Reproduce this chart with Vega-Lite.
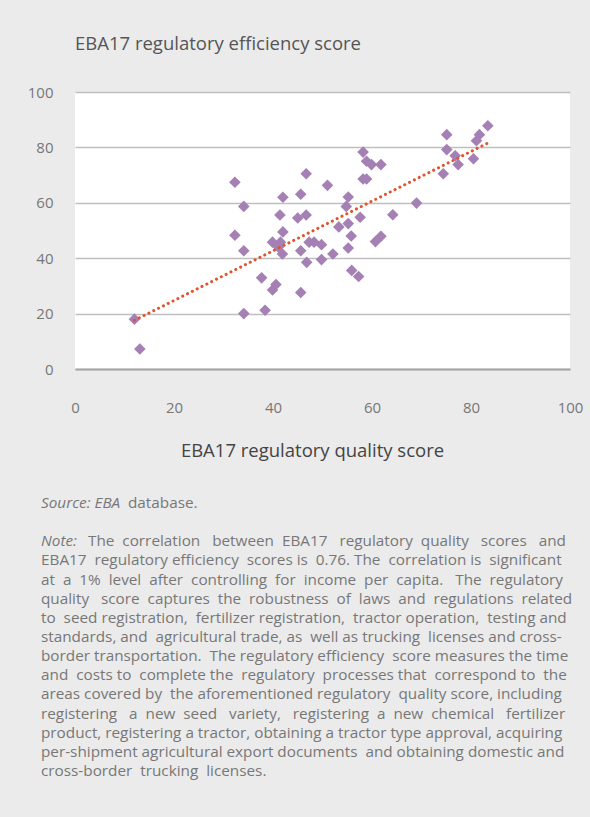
{
  "$schema": "https://vega.github.io/schema/vega-lite/v6.json",
  "background": "#ebebeb",
  "padding": {"left": 27, "top": 34, "right": 12, "bottom": 40},
  "config": {"font": "Open Sans", "concat": {"spacing": 36}},
  "datasets": {
    "points": [
      {"x": 12, "y": 18}, {"x": 13.1, "y": 7.2}, {"x": 32.3, "y": 67.4}, {"x": 34.1, "y": 58.7},
      {"x": 42, "y": 62}, {"x": 46.7, "y": 70.5}, {"x": 45.6, "y": 63.1}, {"x": 41.4, "y": 55.6},
      {"x": 45, "y": 54.5}, {"x": 46.7, "y": 55.6}, {"x": 32.3, "y": 48.3}, {"x": 42, "y": 49.5},
      {"x": 51, "y": 66.3}, {"x": 34.1, "y": 42.7}, {"x": 39.9, "y": 45.8}, {"x": 41.5, "y": 45.8},
      {"x": 41.9, "y": 41.5}, {"x": 41.1, "y": 44}, {"x": 45.6, "y": 42.7}, {"x": 47.3, "y": 45.8},
      {"x": 48.3, "y": 45.8}, {"x": 49.8, "y": 44.9}, {"x": 52.1, "y": 41.5}, {"x": 46.8, "y": 38.5},
      {"x": 49.8, "y": 39.5}, {"x": 53.3, "y": 51.3}, {"x": 54.8, "y": 58.7}, {"x": 55.2, "y": 62.1},
      {"x": 37.7, "y": 32.9}, {"x": 39.9, "y": 28.5}, {"x": 40.6, "y": 30.5}, {"x": 45.6, "y": 27.6},
      {"x": 34.1, "y": 20}, {"x": 38.4, "y": 21.2}, {"x": 58.2, "y": 78.3}, {"x": 58.9, "y": 75},
      {"x": 59.9, "y": 73.8}, {"x": 61.8, "y": 73.8}, {"x": 58.2, "y": 68.6}, {"x": 58.9, "y": 68.6},
      {"x": 57.6, "y": 54.8}, {"x": 55.2, "y": 52.5}, {"x": 64.2, "y": 55.7}, {"x": 69, "y": 59.9},
      {"x": 55.8, "y": 48}, {"x": 60.7, "y": 46}, {"x": 61.8, "y": 47.9}, {"x": 55.2, "y": 43.7},
      {"x": 55.9, "y": 35.6}, {"x": 57.3, "y": 33.4}, {"x": 75.1, "y": 84.6}, {"x": 75.1, "y": 79.2},
      {"x": 76.8, "y": 77}, {"x": 77.4, "y": 73.8}, {"x": 74.4, "y": 70.5}, {"x": 80.5, "y": 75.9},
      {"x": 81.1, "y": 82.4}, {"x": 81.7, "y": 84.6}, {"x": 83.4, "y": 87.8}
    ],
    "notes": [
      {"line": 0, "seg": "italic", "text": "Source: EBA"},
      {"line": 0, "seg": "after_source", "text": "database."},
      {"line": 2, "seg": "italic", "text": "Note:"},
      {"line": 2, "seg": "after_note", "text": "The\u00a0 correlation\u00a0\u00a0 between\u00a0 EBA17\u00a0\u00a0 regulatory\u00a0 quality\u00a0\u00a0 scores\u00a0\u00a0 and"},
      {"line": 3, "seg": "plain", "text": "EBA17\u00a0 regulatory efficiency\u00a0 scores is\u00a0 0.76. The\u00a0 correlation is\u00a0 significant"},
      {"line": 4, "seg": "plain", "text": "at\u00a0 a\u00a0 1%\u00a0 level\u00a0 after\u00a0 controlling\u00a0 for\u00a0 income\u00a0 per\u00a0 capita.\u00a0\u00a0 The\u00a0 regulatory"},
      {"line": 5, "seg": "plain", "text": "quality\u00a0\u00a0 score\u00a0 captures\u00a0 the\u00a0 robustness\u00a0 of\u00a0 laws\u00a0 and\u00a0 regulations\u00a0 related"},
      {"line": 6, "seg": "plain", "text": "to\u00a0 seed registration,\u00a0 fertilizer registration,\u00a0 tractor operation,\u00a0 testing and"},
      {"line": 7, "seg": "plain", "text": "standards, and\u00a0 agricultural trade, as\u00a0 well as trucking\u00a0 licenses and cross-"},
      {"line": 8, "seg": "plain", "text": "border transportation.\u00a0 The regulatory efficiency\u00a0 score measures the time"},
      {"line": 9, "seg": "plain", "text": "and\u00a0 costs to\u00a0 complete the\u00a0 regulatory\u00a0 processes that\u00a0 correspond to\u00a0 the"},
      {"line": 10, "seg": "plain", "text": "areas covered by\u00a0 the aforementioned regulatory\u00a0 quality score, including"},
      {"line": 11, "seg": "plain", "text": "registering\u00a0\u00a0 a\u00a0 new\u00a0 seed\u00a0\u00a0 variety,\u00a0\u00a0 registering\u00a0 a\u00a0 new\u00a0 chemical\u00a0\u00a0 fertilizer"},
      {"line": 12, "seg": "plain", "text": "product, registering a tractor, obtaining a tractor type approval, acquiring"},
      {"line": 13, "seg": "plain", "text": "per-shipment agricultural export documents\u00a0 and obtaining domestic and"},
      {"line": 14, "seg": "plain", "text": "cross-border\u00a0 trucking\u00a0 licenses."}
    ]
  },
  "vconcat": [
    {
      "width": 495,
      "height": 277,
      "view": {"fill": "#ffffff", "stroke": null},
      "title": {"text": "EBA17 regulatory efficiency score", "anchor": "start", "frame": "group", "fontSize": 18.5, "fontWeight": "normal", "color": "#555555", "offset": 32},
      "layer": [
        {
          "data": {"name": "points"},
          "mark": {"type": "point", "shape": "diamond", "filled": true, "size": 135, "color": "#a580b5", "opacity": 1},
          "encoding": {
            "x": {"field": "x", "type": "quantitative", "scale": {"domain": [0, 100], "nice": false},
              "axis": {"values": [0, 20, 40, 60, 80, 100], "grid": false, "ticks": false, "domainColor": "#a6a6a6", "domainWidth": 2,
                "labelFontSize": 15, "labelColor": "#777777", "labelPadding": 31, "labelFlush": false,
                "title": "EBA17 regulatory quality score", "titleFontSize": 18.5, "titleFontWeight": "normal", "titleColor": "#444444", "titlePadding": 26, "titleX": 237}},
            "y": {"field": "y", "type": "quantitative", "scale": {"domain": [0, 100], "nice": false},
              "axis": {"values": [0, 20, 40, 60, 80, 100], "grid": true, "gridColor": "#bfbfbf", "gridWidth": 1.5, "domain": false, "ticks": false,
                "labelFontSize": 15, "labelColor": "#777777", "labelPadding": 22, "title": null}}
          }
        },
        {
          "data": {"name": "points"},
          "transform": [{"regression": "y", "on": "x"}],
          "mark": {"type": "line", "color": "#e0552b", "strokeDash": [0.1, 5.3], "strokeCap": "round", "strokeWidth": 3},
          "encoding": {
            "x": {"field": "x", "type": "quantitative"},
            "y": {"field": "y", "type": "quantitative"}
          }
        }
      ]
    },
    {
      "width": 495,
      "height": 268,
      "view": {"fill": null, "stroke": null},
      "data": {"name": "notes"},
      "encoding": {
        "x": {"datum": 0, "type": "quantitative", "scale": {"domain": [0, 1]}, "axis": null},
        "y": {"field": "line", "type": "quantitative", "scale": {"domain": [0, 14], "reverse": true}, "axis": null},
        "text": {"field": "text"}
      },
      "layer": [
        {"transform": [{"filter": "datum.seg === 'plain'"}], "mark": {"type": "text", "align": "left", "baseline": "middle", "fontSize": 15.3, "color": "#777777", "dx": -34}},
        {"transform": [{"filter": "datum.seg === 'italic'"}], "mark": {"type": "text", "align": "left", "baseline": "middle", "fontSize": 15.3, "fontStyle": "italic", "color": "#777777", "dx": -34}},
        {"transform": [{"filter": "datum.seg === 'after_source'"}], "mark": {"type": "text", "align": "left", "baseline": "middle", "fontSize": 15.3, "color": "#777777", "dx": 53}},
        {"transform": [{"filter": "datum.seg === 'after_note'"}], "mark": {"type": "text", "align": "left", "baseline": "middle", "fontSize": 15.3, "color": "#777777", "dx": 13}}
      ]
    }
  ]
}
